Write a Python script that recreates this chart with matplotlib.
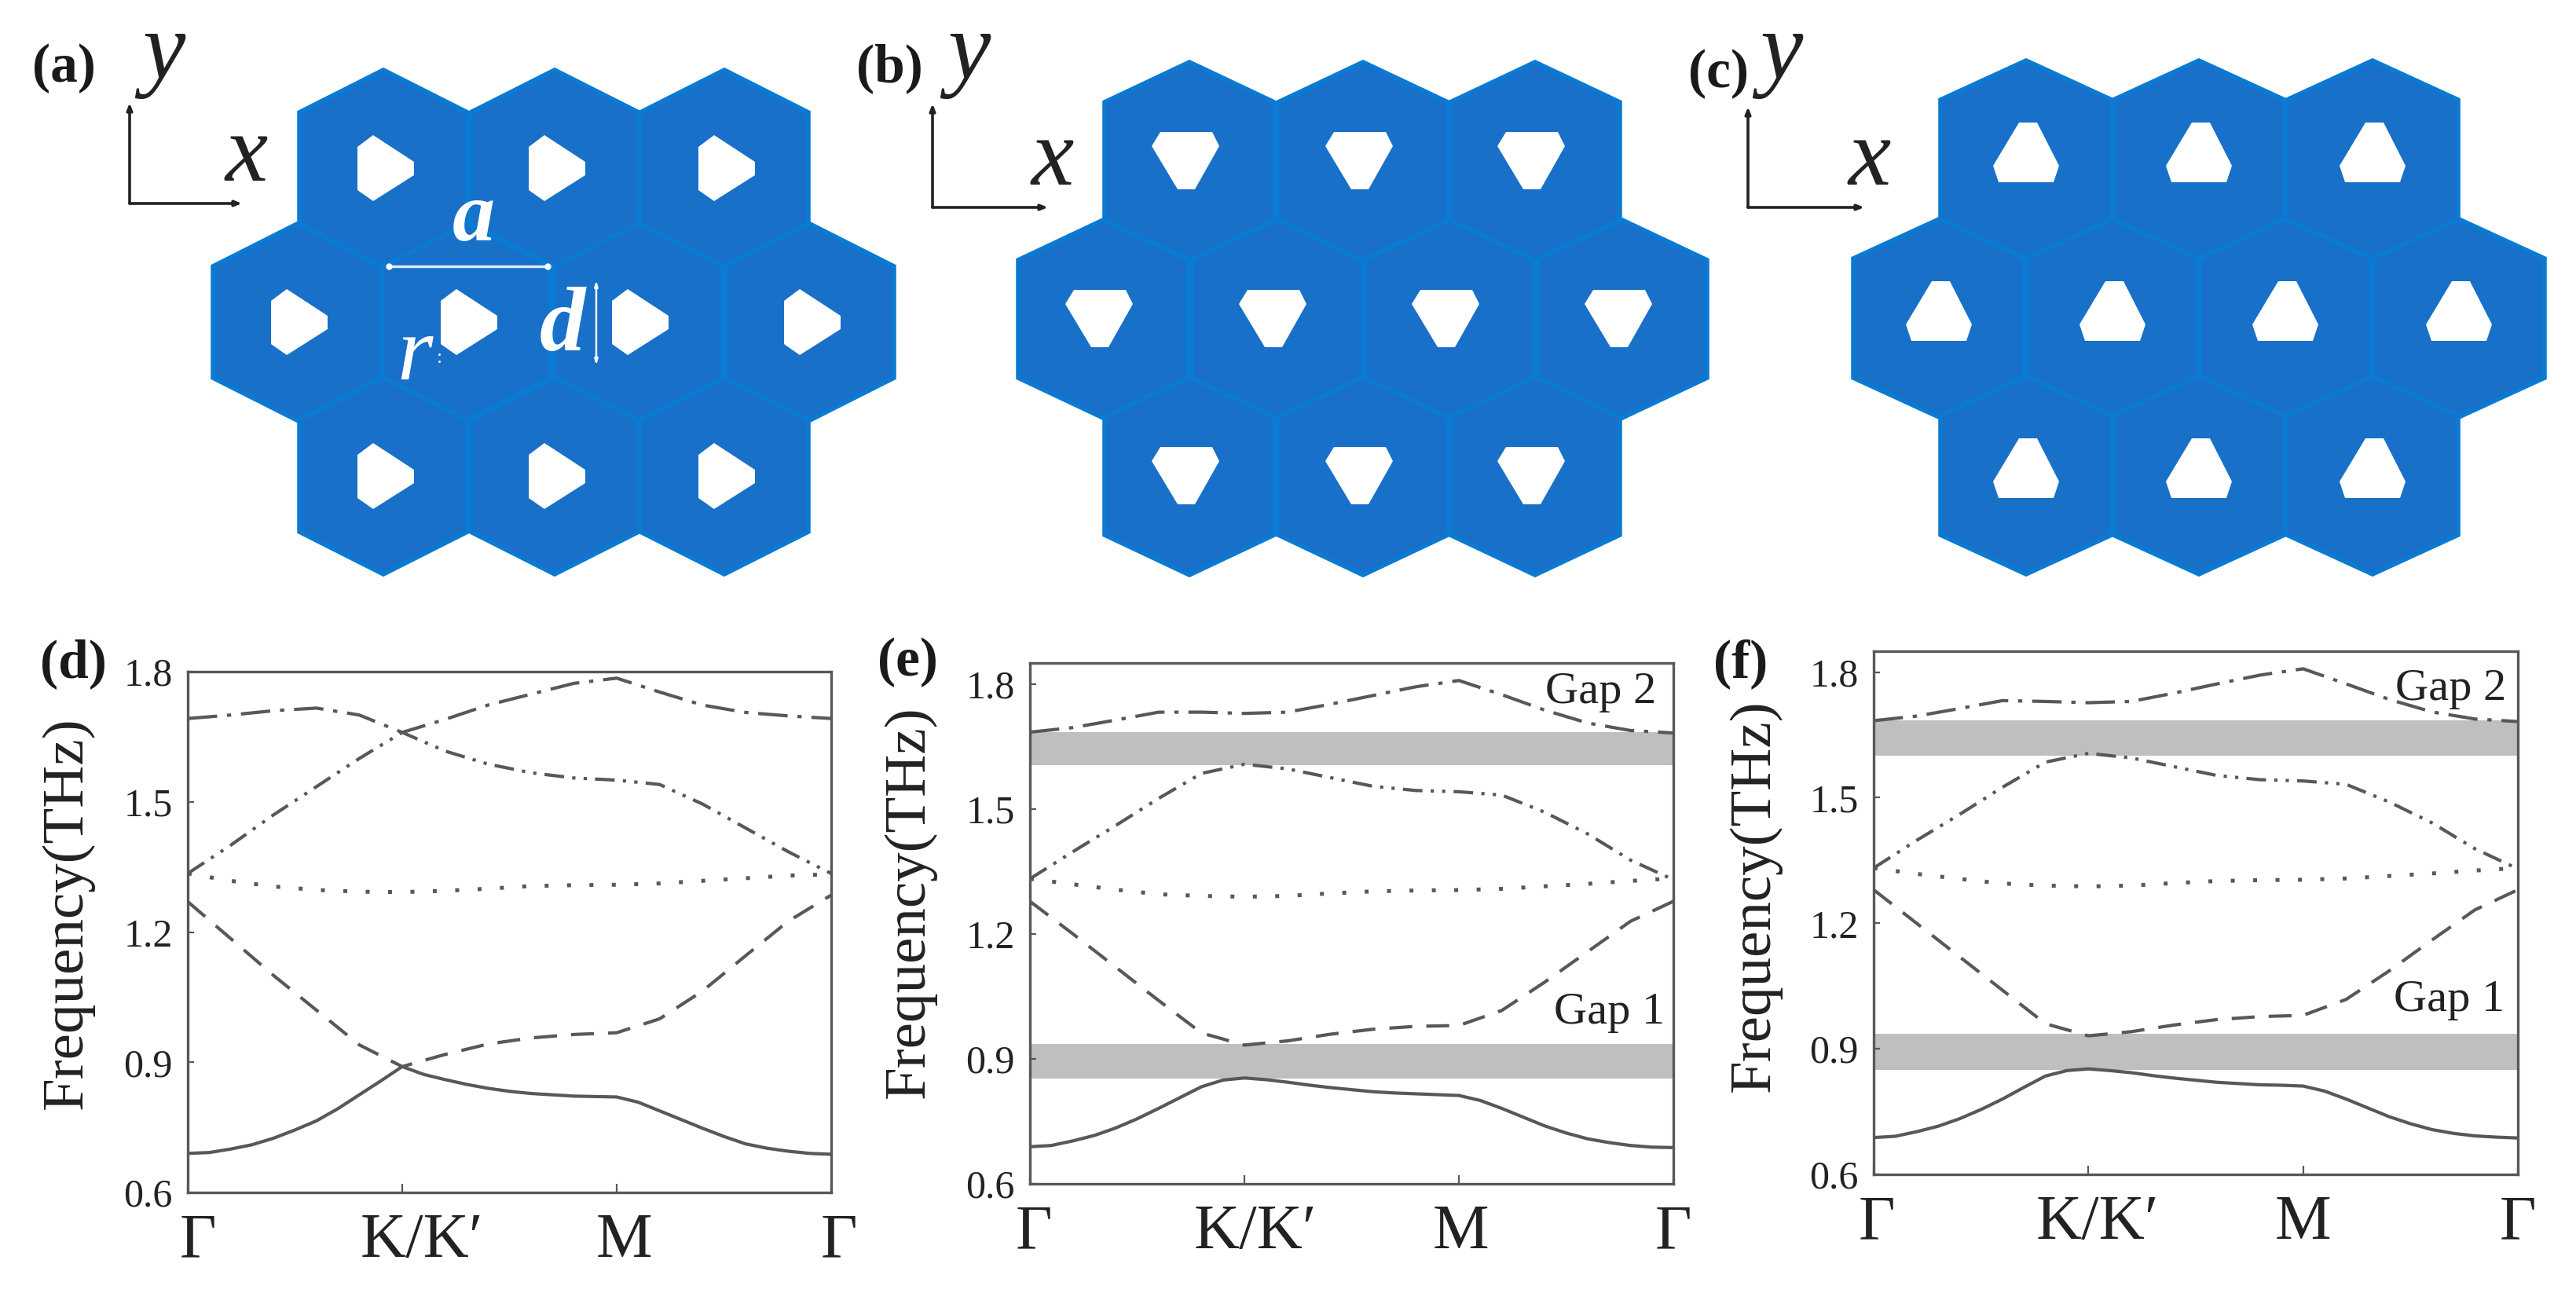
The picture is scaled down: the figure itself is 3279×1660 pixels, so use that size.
import matplotlib
matplotlib.use("Agg")
import matplotlib.pyplot as plt
from matplotlib.patches import Polygon
from matplotlib.transforms import ScaledTranslation

plt.rcParams['font.family'] = ['Liberation Serif', 'DejaVu Serif']

W, H = 3279, 1660

# band structure, path coordinate: 0 = Gamma, 1 = K, 2 = M, 3 = Gamma
path = [0, .2, .4, .6, .8, 1, 1.2, 1.4, 1.6, 1.8, 2, 2.2, 2.4, 2.6, 2.8, 3]
path_fine = [0, .1, .2, .3, .4, .5, .6, .7, .8, .9, 1, 1.1, 1.2, 1.3, 1.4, 1.5,
             1.6, 1.7, 1.8, 1.9, 2, 2.1, 2.2, 2.3, 2.4, 2.5, 2.6, 2.7, 2.8, 2.9, 3]
tick_pos = [0, 1, 2, 3]
tick_names = ['Γ', 'K/K′', 'M', 'Γ']
freq_ticks = [0.6, 0.9, 1.2, 1.5, 1.8]

d_b1 = [.690, .692, .700, .710, .725, .744, .765, .793, .825, .857, .890, .872, .860, .849, .840, .833,
        .828, .825, .822, .821, .820, .808, .788, .768, .748, .729, .712, .702, .695, .690, .688]
d_b2 = [1.27, 1.185, 1.10, 1.02, .940, .890, .918, .942, .956, .964, .968, 1.00, 1.064, 1.145, 1.225, 1.285]
d_b3 = [1.335, 1.318, 1.305, 1.297, 1.293, 1.292, 1.295, 1.30, 1.306, 1.308, 1.309, 1.312, 1.318, 1.324, 1.33, 1.333]
d_b4 = [1.335, 1.40, 1.47, 1.535, 1.60, 1.66, 1.617, 1.587, 1.567, 1.555, 1.55, 1.54, 1.495, 1.44, 1.385, 1.335]
d_b5 = [1.692, 1.70, 1.71, 1.716, 1.70, 1.66, 1.69, 1.723, 1.748, 1.773, 1.785, 1.753, 1.723, 1.706, 1.698, 1.692]

e_b1 = [.689, .692, .703, .716, .734, .756, .781, .807, .833, .849, .854, .850, .844, .837, .831, .826,
        .821, .818, .816, .814, .812, .800, .781, .760, .739, .722, .708, .699, .692, .688, .687]
e_b2 = [1.278, 1.20, 1.12, 1.04, .962, .933, .943, .959, .971, .978, .98, 1.016, 1.084, 1.157, 1.23, 1.278]
e_b3 = [1.332, 1.319, 1.306, 1.295, 1.291, 1.289, 1.291, 1.297, 1.302, 1.304, 1.305, 1.308, 1.314, 1.32, 1.327, 1.333]
e_b4 = [1.332, 1.397, 1.46, 1.525, 1.585, 1.607, 1.596, 1.575, 1.554, 1.544, 1.541, 1.533, 1.492, 1.44, 1.377, 1.33]
e_b5 = [1.684, 1.695, 1.713, 1.732, 1.732, 1.729, 1.732, 1.751, 1.772, 1.793, 1.808, 1.774, 1.737, 1.706, 1.688, 1.682]

f_b1 = [.688, .691, .702, .715, .733, .755, .780, .808, .835, .848, .852, .848, .843, .836, .830, .825,
        .820, .817, .814, .813, .811, .799, .780, .759, .738, .721, .707, .698, .692, .689, .687]
f_b2 = [1.28, 1.20, 1.12, 1.04, .960, .931, .941, .957, .970, .977, .98, 1.018, 1.086, 1.16, 1.232, 1.28]
f_b3 = [1.332, 1.318, 1.306, 1.295, 1.29, 1.288, 1.29, 1.296, 1.301, 1.303, 1.304, 1.307, 1.313, 1.319, 1.326, 1.332]
f_b4 = [1.332, 1.398, 1.46, 1.525, 1.585, 1.606, 1.595, 1.574, 1.553, 1.543, 1.54, 1.532, 1.49, 1.44, 1.378, 1.33]
f_b5 = [1.684, 1.695, 1.713, 1.732, 1.73, 1.727, 1.73, 1.75, 1.772, 1.793, 1.808, 1.772, 1.735, 1.705, 1.688, 1.682]

e_gaps = [(0.852, 0.935), (1.605, 1.685)]
f_gaps = [(0.849, 0.936), (1.600, 1.685)]

# hexagon outlines, not quite regular in the picture
hex_a = [(0, -125), (107, -71), (107, 71), (0, 125), (-107, 71), (-107, -71)]
hex_b = [(0, -126), (108, -75), (108, 75), (0, 126), (-108, 75), (-108, -75)]
hex_c = [(0, -126), (109, -76), (109, 76), (0, 126), (-109, 76), (-109, -76)]

# hole outlines relative to the hexagon centre
hole_a = [(-33, -27), (-13, -42), (39, -8), (39, 9), (-13, 42), (-33, 28)]
hole_b = [(-37, -37), (29, -37), (38, -19), (7, 36), (-15, 36), (-48, -19)]
hole_c = [(-9, -47), (14, -47), (42, 8), (35, 29), (-35, 29), (-42, 8)]

# hexagon rows per panel: (row y, centre xs)
rows_a = [(214, [488, 706, 922]), (410, [378, 594, 812, 1031]), (606, [488, 706, 922])]
rows_b = [(205, [1514, 1735, 1954]), (406, [1404, 1625, 1845, 2065]), (606, [1514, 1735, 1954])]
rows_c = [(203, [2579, 2799, 3020]), (405, [2468, 2689, 2909, 3130]), (605, [2579, 2799, 3020])]

BLUE = '#1870c8'
EDGE = '#0a7ad2'
LINE = '#585858'

band_styles = [
    ('-', 3.0),
    ((0, (7, 4.3)), 3.0),
    ((0, (1, 4.7)), 3.6),
    ((0, (6, 2.5, 1, 2.5, 1, 2.5)), 3.0),
    ((0, (9, 3, 1.3, 3)), 3.0),
]

fig = plt.figure(figsize=(W / 100, H / 100), dpi=100)

# full-figure pixel canvas for the lattice drawings and loose labels
canvas = fig.add_axes([0, 0, 1, 1])
canvas.set_xlim(0, W)
canvas.set_ylim(H, 0)
canvas.axis('off')


def lattice(rows, shape, hole):
    for y, xs in rows:
        for x in xs:
            canvas.add_patch(Polygon([(x + dx, y + dy) for dx, dy in shape], closed=True,
                                     facecolor=BLUE, edgecolor=EDGE, linewidth=4, joinstyle='miter'))
    for y, xs in rows:
        for x in xs:
            canvas.add_patch(Polygon([(x + dx, y + dy) for dx, dy in hole], closed=True,
                                     facecolor='white', edgecolor='none'))


lattice(rows_a, hex_a, hole_a)
lattice(rows_b, hex_b, hole_b)
lattice(rows_c, hex_c, hole_c)


def xy_axes(x0, y0, x1, y1, ylab_x, ylab_y, xlab_x, xlab_y):
    arrow = dict(arrowstyle='-|>,head_length=0.5,head_width=0.2', color='#222222', lw=2.6,
                 shrinkA=0, shrinkB=0)
    canvas.annotate('', xy=(x0, y1), xytext=(x0, y0), arrowprops=arrow)
    canvas.annotate('', xy=(x1, y0), xytext=(x0, y0), arrowprops=arrow)
    canvas.text(ylab_x, ylab_y, 'y', style='italic', fontsize=88, color='#222222', ha='center', va='center')
    canvas.text(xlab_x, xlab_y, 'x', style='italic', fontsize=88, color='#222222', ha='center', va='center')


xy_axes(165, 259, 308, 131, 208, 70, 314, 200)
xy_axes(1187, 264, 1334, 132, 1233, 70, 1340, 205)
xy_axes(2225, 264, 2373, 136, 2267, 70, 2380, 205)

# annotations on panel (a)
canvas.plot([495, 697], [339, 339], color='#dce9f7', lw=2.5, marker='o', ms=5, mfc='white', mec='white')
canvas.annotate('', xy=(759, 357), xytext=(759, 465),
                arrowprops=dict(arrowstyle='<|-|>,head_length=0.4,head_width=0.12', color='white', lw=1.8,
                                shrinkA=0, shrinkB=0))
canvas.text(603, 280, 'a', style='italic', weight='bold', fontsize=78, color='white', ha='center', va='center')
canvas.text(528, 455, 'r', style='italic', fontsize=84, color='white', ha='center', va='center')
canvas.text(560, 456, ':', fontsize=18, color='white', ha='center', va='center')
canvas.text(716, 418, 'd', style='italic', weight='bold', fontsize=84, color='white', ha='center', va='center')

panel_names = ['(a)', '(b)', '(c)', '(d)', '(e)', '(f)']
panel_x = [81, 1132, 2188, 93, 1155, 2216]
panel_y = [87, 87, 94, 845, 843, 845]
for name, px, py in zip(panel_names, panel_x, panel_y):
    canvas.text(px, py, name, weight='bold', fontsize=50, color='#1a1a1a', ha='center', va='center')


def band_panel(rect, ylim, bands, gaps, ylab_xy, tick_shift, gap_text):
    left, top, right, bottom = rect
    ax = fig.add_axes([left / W, 1 - bottom / H, (right - left) / W, (bottom - top) / H])
    ax.patch.set_alpha(0)
    for lo, hi in gaps:
        ax.axhspan(lo, hi, color='#bfbfbf', lw=0, zorder=1)
    for i, (vals, (ls, lw)) in enumerate(zip(bands, band_styles)):
        xs = path_fine if i == 0 else path
        ax.plot(xs, vals, color=LINE, linestyle=ls, linewidth=lw, zorder=2)
    ax.set_xlim(0, 3)
    ax.set_ylim(*ylim)
    ax.set_yticks(freq_ticks)
    ax.set_yticklabels([f'{t:.1f}' for t in freq_ticks])
    ax.set_xticks(tick_pos)
    ax.set_xticklabels(tick_names)
    ax.tick_params(axis='y', direction='in', length=6, width=1.6, color=LINE, labelsize=36,
                   labelcolor='#222222', pad=14)
    ax.tick_params(axis='x', direction='in', length=8, width=1.6, color=LINE, labelsize=58,
                   labelcolor='#222222', pad=19)
    for lab, dx in zip(ax.get_xticklabels(), tick_shift):
        lab.set_transform(lab.get_transform() + ScaledTranslation(dx / 100, 0, fig.dpi_scale_trans))
    for s in ax.spines.values():
        s.set_color(LINE)
        s.set_linewidth(2.4)
    ax.set_ylabel('Frequency(THz)', fontsize=54, color='#222222')
    ax.yaxis.set_label_coords(ylab_xy[0], ylab_xy[1], transform=canvas.transData)
    for txt, gx, gy in gap_text:
        ax.text(gx, gy, txt, fontsize=42, color='#222222', ha='center', va='center', zorder=3)
    return ax


band_panel((239, 855, 1058, 1518), (0.6, 1.8), [d_b1, d_b2, d_b3, d_b4, d_b5], [],
           (120, 1162), [13, 25, 9, 10], [])
band_panel((1311, 844, 2130, 1507), (0.6, 1.85), [e_b1, e_b2, e_b3, e_b4, e_b5], e_gaps,
           (1192, 1148), [5, 14, 2, 0],
           [('Gap 2', 2.66, 1.78), ('Gap 1', 2.70, 1.011)])
band_panel((2385, 829, 3205, 1495), (0.6, 1.85), [f_b1, f_b2, f_b3, f_b4, f_b5], f_gaps,
           (2268, 1140), [4, 12, 0, 0],
           [('Gap 2', 2.687, 1.76), ('Gap 1', 2.68, 1.017)])

fig.savefig('out.png', dpi=100)
